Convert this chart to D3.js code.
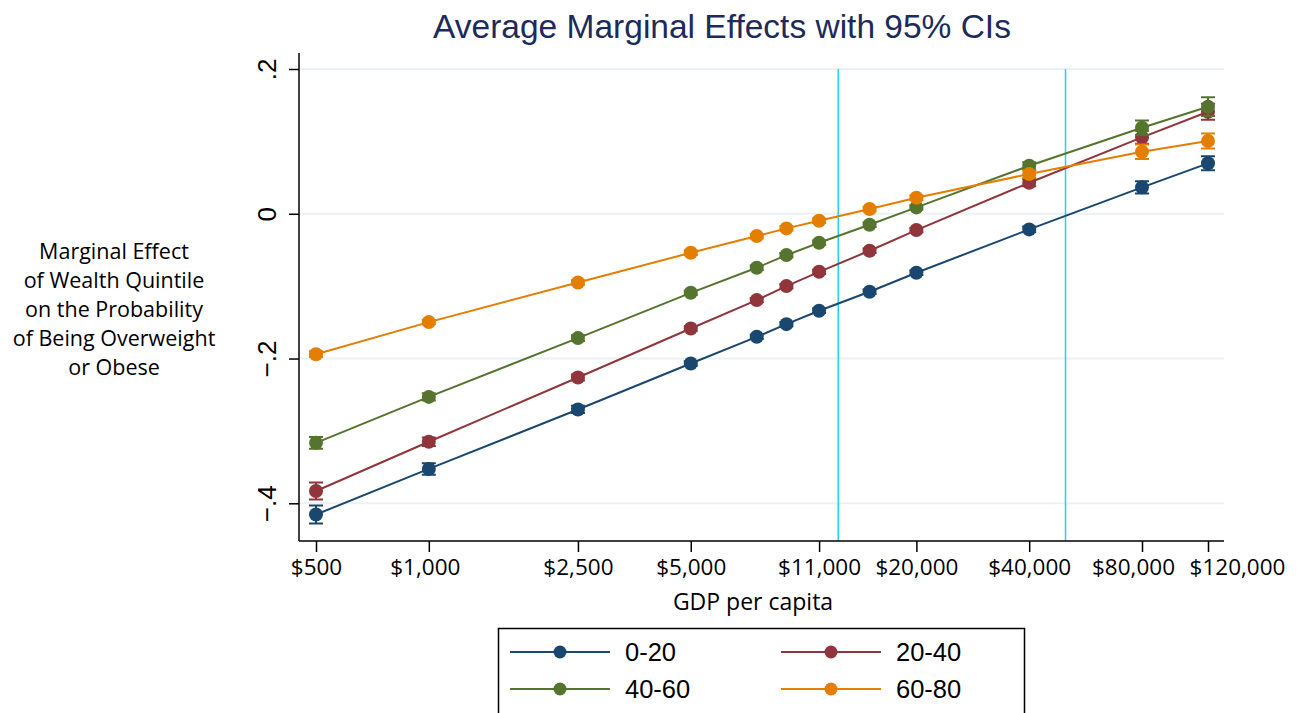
<!DOCTYPE html>
<html>
<head>
<meta charset="utf-8">
<script src="https://cdn.jsdelivr.net/npm/d3@7"></script>
<style>
  body { margin: 0; background: #fff; }
  svg { display: block; }
</style>
</head>
<body>
<div id="chart"></div>
<script>
// GDP per capita points where the margins were evaluated
const gdp = [500, 1000, 2500, 5000, 7500, 9000, 11000, 15000, 20000, 40000, 80000, 120000];
const tickValues = [500, 1000, 2500, 5000, 11000, 20000, 40000, 80000, 120000];
const yTicks = [0.2, 0, -0.2, -0.4];
const refLines = [12375, 50000];

const names = ['0-20', '20-40', '40-60', '60-80'];
const colors = ['#1a476f', '#90353b', '#55752f', '#e37e00'];

// average marginal effects per wealth quintile
const q1 = [-0.4155, -0.3525, -0.2704, -0.2068, -0.170, -0.1525, -0.134, -0.1078, -0.0815, -0.0216, 0.0365, 0.0697];
const q2 = [-0.383, -0.315, -0.2262, -0.1585, -0.1193, -0.0999, -0.0802, -0.0511, -0.0225, 0.0429, 0.1056, 0.141];
const q3 = [-0.3165, -0.253, -0.1718, -0.1092, -0.0746, -0.0571, -0.0401, -0.0152, 0.0088, 0.0663, 0.1189, 0.1479];
const q4 = [-0.194, -0.1497, -0.0949, -0.0539, -0.0308, -0.0202, -0.0097, 0.0065, 0.0221, 0.0549, 0.0857, 0.1005];

// half width of the 95% CI
const ci1 = [0.0124, 0.008, 0.005, 0.003, 0.003, 0.003, 0.003, 0.003, 0.003, 0.004, 0.0085, 0.0097];
const ci2 = [0.0117, 0.006, 0.004, 0.003, 0.003, 0.003, 0.003, 0.003, 0.003, 0.005, 0.009, 0.011];
const ci3 = [0.008, 0.005, 0.004, 0.003, 0.003, 0.003, 0.003, 0.003, 0.003, 0.005, 0.0099, 0.013];
const ci4 = [0.004, 0.003, 0.003, 0.003, 0.003, 0.003, 0.003, 0.003, 0.003, 0.005, 0.01, 0.0104];

const yTitleLines = ['Marginal Effect', 'of Wealth Quintile', 'on the Probability', 'of Being Overweight', 'or Obese'];

const width = 1308, height = 713;
const plot = { left: 299, right: 1224, top: 53, bottom: 541 };

const series = [q1, q2, q3, q4].map((vals, i) => ({
  name: names[i],
  color: colors[i],
  points: vals.map((v, j) => ({ x: gdp[j], y: v, ci: [ci1, ci2, ci3, ci4][i][j] }))
}));

const svg = d3.select('#chart').append('svg')
  .attr('width', width)
  .attr('height', height);

const xScale = d3.scaleLog().domain([500, 120000]).range([316, 1208]);
const yScale = d3.scaleLinear().domain([-0.4, 0.2]).range([503.3, 69]);

// gridlines
svg.append('g').selectAll('line')
  .data(yTicks)
  .enter().append('line')
  .attr('x1', plot.left).attr('x2', plot.right)
  .attr('y1', d => yScale(d)).attr('y2', d => yScale(d))
  .attr('stroke', '#eaf2f3').attr('stroke-width', 2);

// reference lines
svg.append('g').selectAll('line')
  .data(refLines)
  .enter().append('line')
  .attr('x1', d => xScale(d)).attr('x2', d => xScale(d))
  .attr('y1', yScale(0.2)).attr('y2', plot.bottom)
  .attr('stroke', '#1fd3ea').attr('stroke-width', 1.5);

// axes
const yAxis = svg.append('g')
  .attr('transform', `translate(${plot.left},0)`)
  .call(d3.axisLeft(yScale).tickValues(yTicks).tickSize(10).tickSizeOuter(0)
    .tickFormat(d => d === 0 ? '0' : d3.format('.1f')(d).replace('0.', '.')));
yAxis.select('.domain').attr('d', `M0,${plot.top}V${plot.bottom}`).attr('stroke-width', 1.5);
yAxis.selectAll('.tick line').attr('stroke-width', 1.5);
yAxis.selectAll('.tick text')
  .attr('x', null).attr('dy', null)
  .attr('transform', 'translate(-23,0) rotate(-90)')
  .attr('text-anchor', 'middle')
  .style('font-family', '"Liberation Sans", Arial, sans-serif')
  .style('font-size', '26px')
  .attr('fill', '#000');

const xAxis = svg.append('g')
  .attr('transform', `translate(0,${plot.bottom})`)
  .call(d3.axisBottom(xScale).tickValues(tickValues).tickSize(11).tickSizeOuter(0)
    .tickFormat(d => '$' + d3.format(',')(d)));
xAxis.select('.domain').attr('d', `M${plot.left},0H${plot.right}`).attr('stroke-width', 1.5);
xAxis.selectAll('.tick line').attr('stroke-width', 1.5);
xAxis.selectAll('.tick text')
  .attr('y', 18)
  .attr('dx', d => d === 120000 ? 29 : d === 80000 ? -9 : d === 1000 ? -4 : 0)
  .style('font-family', '"Open Sans", sans-serif')
  .style('font-size', '22.5px')
  .attr('fill', '#000');

// series: CIs, lines, markers
const line = d3.line().x(d => xScale(d.x)).y(d => yScale(d.y));
series.forEach(s => {
  const g = svg.append('g');
  g.selectAll('.ci').data(s.points).enter().append('path')
    .attr('d', d => {
      const x = xScale(d.x), y0 = yScale(d.y - d.ci), y1 = yScale(d.y + d.ci);
      return `M${x - 7},${y0}H${x + 7}M${x},${y0}V${y1}M${x - 7},${y1}H${x + 7}`;
    })
    .attr('stroke', s.color).attr('stroke-width', 2).attr('fill', 'none');
  g.append('path').datum(s.points)
    .attr('d', line)
    .attr('fill', 'none').attr('stroke', s.color).attr('stroke-width', 2);
  g.selectAll('circle').data(s.points).enter().append('circle')
    .attr('cx', d => xScale(d.x)).attr('cy', d => yScale(d.y))
    .attr('r', 7).attr('fill', s.color);
});

// title
svg.append('text')
  .text('Average Marginal Effects with 95% CIs')
  .attr('x', 722).attr('y', 38)
  .attr('text-anchor', 'middle')
  .style('font-family', '"Liberation Sans", Arial, sans-serif')
  .style('font-size', '33.5px')
  .attr('fill', '#1c2b59');

// axis titles
svg.append('text')
  .text('GDP per capita')
  .attr('x', 753).attr('y', 610)
  .attr('text-anchor', 'middle')
  .style('font-family', '"Open Sans", sans-serif')
  .style('font-size', '23px');

svg.append('g').selectAll('text')
  .data(yTitleLines)
  .enter().append('text')
  .text(d => d)
  .attr('x', 114)
  .attr('y', (_, i) => 259 + i * 29)
  .attr('text-anchor', 'middle')
  .style('font-family', '"Open Sans", sans-serif')
  .style('font-size', '21.5px');

// legend
const legend = svg.append('g');
legend.append('rect')
  .attr('x', 498.5).attr('y', 628.5).attr('width', 526).attr('height', 100)
  .attr('fill', '#fff').attr('stroke', '#000').attr('stroke-width', 1.5);
const items = legend.selectAll('.item').data(series).enter().append('g')
  .attr('transform', (_, i) => `translate(${i % 2 === 0 ? 510 : 781},${i < 2 ? 652 : 689})`);
items.append('line')
  .attr('x1', 0).attr('x2', 100).attr('y1', 0).attr('y2', 0)
  .attr('stroke', d => d.color).attr('stroke-width', 2);
items.append('circle')
  .attr('cx', 50).attr('cy', 0).attr('r', 6.5).attr('fill', d => d.color);
items.append('text')
  .text(d => d.name)
  .attr('x', 115).attr('y', 9)
  .style('font-family', '"Liberation Sans", Arial, sans-serif')
  .style('font-size', '25.5px');
</script>
</body>
</html>
